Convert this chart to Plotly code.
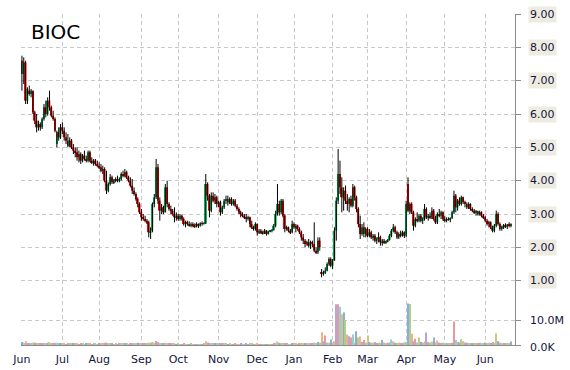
import pandas as pd
import plotly.graph_objects as go

ticker = "BIOC"

open_ = [7.60,7.20,7.55,6.40,6.70,6.60,6.70,6.05,5.80,5.60,
5.70,5.60,5.85,6.20,6.00,6.40,6.20,5.95,5.85,5.10,
5.45,5.30,5.60,5.50,5.30,5.20,5.05,5.20,5.00,4.90,
4.85,4.70,4.80,4.60,4.75,4.65,4.60,4.85,4.60,4.55,
4.60,4.50,4.45,4.40,4.30,4.35,4.00,3.70,3.90,4.10,
3.95,4.00,4.05,4.00,4.05,4.20,4.15,4.25,4.10,4.00,
3.85,3.70,3.60,3.45,3.30,3.05,2.90,2.85,2.80,2.75,
2.45,2.50,3.30,3.50,4.40,3.40,3.10,3.20,3.05,3.80,
3.30,3.15,3.10,3.00,2.90,2.95,2.85,2.95,2.85,2.70,
2.75,2.70,2.65,2.70,2.65,2.62,2.70,2.65,2.72,2.70,
2.72,3.90,3.55,3.10,3.55,3.40,3.50,3.30,3.35,3.05,
3.20,3.40,3.45,3.35,3.45,3.30,3.40,3.25,3.15,3.05,
3.00,2.95,2.90,2.85,2.90,2.70,2.60,2.55,2.70,2.45,
2.50,2.45,2.42,2.50,2.40,2.48,2.50,2.52,2.65,3.00,
3.30,3.05,3.40,2.95,2.55,2.60,2.50,2.45,2.70,2.60,
2.65,2.55,2.45,2.30,2.20,2.10,2.15,2.05,2.15,2.10,
1.90,1.85,2.20,1.25,1.20,1.25,1.30,1.50,1.65,1.45,
1.60,2.50,3.40,4.20,3.80,3.50,3.70,3.40,3.30,3.45,
3.25,3.80,3.50,3.15,2.70,2.40,2.60,2.40,2.55,2.35,
2.45,2.30,2.35,2.20,2.25,2.30,2.15,2.20,2.15,2.18,
2.22,2.35,2.50,2.60,2.45,2.30,2.40,2.35,2.45,2.35,
3.90,3.10,3.30,3.05,2.65,2.85,2.80,2.95,2.80,2.85,
3.15,2.90,2.95,2.90,3.10,2.85,2.75,3.00,2.95,3.05,
2.85,2.80,2.85,2.82,2.88,3.05,3.55,3.20,3.40,3.30,
3.50,3.35,3.30,3.20,3.30,3.15,3.10,3.05,3.08,3.00,
3.05,2.95,2.90,2.80,2.70,2.75,2.60,2.50,2.65,3.00,
2.70,2.55,2.60,2.65,2.62,2.68,2.65]

high = [7.75,7.70,7.60,6.80,6.85,6.75,6.70,6.10,6.00,5.80,
5.75,5.90,6.30,6.40,6.50,6.70,6.25,6.10,5.90,5.50,
5.60,5.70,5.75,5.60,5.45,5.40,5.30,5.25,5.10,5.00,
5.00,4.90,4.85,4.80,4.90,4.75,4.90,4.90,4.70,4.65,
4.65,4.60,4.55,4.50,4.45,4.40,4.30,3.95,4.20,4.15,
4.05,4.10,4.15,4.10,4.25,4.30,4.35,4.30,4.15,4.10,
4.05,3.80,3.65,3.50,3.35,3.15,3.00,2.95,2.85,2.80,
2.60,3.35,3.60,4.65,4.50,3.50,3.30,3.25,3.90,4.00,
3.35,3.25,3.15,3.20,3.05,3.00,3.00,2.98,2.90,2.80,
2.80,2.78,2.75,2.75,2.72,2.75,2.72,2.75,2.78,2.75,
4.20,3.95,3.60,3.65,3.65,3.60,3.55,3.40,3.40,3.25,
3.45,3.55,3.55,3.50,3.50,3.45,3.45,3.30,3.20,3.10,
3.05,3.00,3.00,2.95,2.92,2.80,2.65,2.75,2.72,2.55,
2.55,2.50,2.55,2.52,2.50,2.52,2.55,2.70,3.10,3.90,
3.40,3.45,3.45,3.00,2.65,2.62,2.55,2.80,2.75,2.70,
2.68,2.60,2.50,2.40,2.25,2.20,2.25,2.20,2.20,2.75,
2.00,2.30,2.30,1.35,1.30,1.40,1.55,1.70,1.70,1.65,
2.60,3.50,4.95,4.60,4.10,3.80,3.85,3.60,3.50,3.55,
3.90,3.85,3.55,3.20,2.95,2.70,2.75,2.60,2.60,2.55,
2.50,2.40,2.40,2.30,2.45,2.35,2.25,2.25,2.20,2.25,
2.40,2.55,2.70,2.65,2.50,2.45,2.50,2.50,2.48,3.40,
4.10,3.35,3.35,3.10,2.90,3.05,3.00,3.00,2.90,3.30,
3.20,3.00,3.05,3.20,3.15,2.95,3.05,3.15,3.10,3.08,
2.95,2.90,2.90,2.90,3.10,3.70,3.60,3.45,3.50,3.55,
3.52,3.40,3.35,3.35,3.32,3.20,3.15,3.12,3.10,3.10,
3.08,3.00,2.95,2.85,2.80,2.78,2.65,2.70,3.10,3.05,
2.75,2.65,2.70,2.72,2.70,2.75,2.72]

low = [6.70,6.90,6.30,6.30,6.55,6.50,6.00,5.70,5.45,5.50,
5.50,5.55,5.80,5.90,5.95,6.10,5.90,5.80,5.45,5.00,
5.20,5.25,5.40,5.20,5.10,5.00,5.00,4.95,4.80,4.70,
4.60,4.55,4.50,4.55,4.60,4.55,4.55,4.55,4.50,4.45,
4.45,4.40,4.35,4.25,4.20,3.95,3.60,3.65,3.85,3.90,
3.90,3.95,3.95,3.95,4.00,4.10,4.10,4.05,3.95,3.80,
3.60,3.55,3.40,3.20,3.00,2.80,2.80,2.75,2.70,2.30,
2.25,2.45,3.20,3.45,3.30,2.80,3.00,3.00,3.05,3.20,
3.10,3.00,2.95,2.75,2.80,2.80,2.80,2.80,2.65,2.60,
2.65,2.62,2.60,2.60,2.58,2.60,2.58,2.62,2.65,2.68,
2.70,3.40,2.90,3.05,3.35,3.30,3.20,3.20,2.95,3.00,
3.15,3.30,3.25,3.30,3.25,3.25,3.20,3.10,3.00,2.90,
2.90,2.85,2.75,2.80,2.60,2.55,2.50,2.50,2.35,2.40,
2.40,2.38,2.40,2.35,2.38,2.45,2.45,2.50,2.60,2.95,
2.95,3.00,2.90,2.45,2.50,2.45,2.40,2.42,2.55,2.45,
2.50,2.40,2.20,2.10,2.00,2.05,2.00,1.95,2.00,1.85,
1.80,1.80,1.90,1.10,1.15,1.20,1.28,1.45,1.40,1.35,
1.60,2.20,3.30,3.60,3.05,3.10,3.30,3.10,3.05,3.20,
3.20,3.40,3.05,2.60,2.25,2.35,2.30,2.30,2.30,2.30,
2.25,2.20,2.15,2.10,2.15,2.05,2.05,2.10,2.10,2.15,
2.20,2.30,2.45,2.40,2.25,2.25,2.30,2.32,2.28,2.30,
3.05,3.00,3.00,2.50,2.60,2.75,2.75,2.75,2.70,2.80,
2.85,2.80,2.85,2.85,2.80,2.70,2.70,2.90,2.85,2.80,
2.75,2.75,2.80,2.75,2.85,3.00,3.05,3.10,3.25,3.25,
3.30,3.20,3.15,3.15,3.10,3.05,3.00,2.95,2.95,2.95,
2.90,2.85,2.75,2.65,2.60,2.55,2.45,2.45,2.60,2.65,
2.50,2.50,2.55,2.58,2.55,2.60,2.60]

close = [7.20,7.55,6.40,6.75,6.60,6.70,6.05,5.80,5.60,5.70,
5.60,5.85,6.20,6.00,6.40,6.20,5.95,5.85,5.50,5.45,
5.30,5.60,5.50,5.30,5.20,5.05,5.20,5.00,4.90,4.85,
4.70,4.80,4.60,4.75,4.65,4.60,4.85,4.60,4.55,4.60,
4.50,4.45,4.40,4.30,4.35,4.00,3.70,3.90,4.10,3.95,
4.00,4.05,4.00,4.05,4.20,4.15,4.25,4.10,4.00,3.85,
3.70,3.60,3.45,3.30,3.05,2.90,2.85,2.80,2.75,2.45,
2.50,3.30,3.50,4.40,3.40,3.10,3.20,3.05,3.80,3.30,
3.15,3.10,3.00,2.90,2.95,2.85,2.95,2.85,2.70,2.75,
2.70,2.65,2.70,2.65,2.62,2.70,2.65,2.72,2.70,2.72,
3.90,3.55,3.10,3.55,3.40,3.50,3.30,3.35,3.05,3.20,
3.40,3.45,3.35,3.45,3.30,3.40,3.25,3.15,3.05,3.00,
2.95,2.90,2.85,2.90,2.70,2.60,2.55,2.70,2.45,2.50,
2.45,2.42,2.50,2.40,2.48,2.50,2.52,2.65,3.00,3.30,
3.05,3.40,2.95,2.55,2.60,2.50,2.45,2.70,2.60,2.65,
2.55,2.45,2.30,2.20,2.10,2.15,2.05,2.15,2.10,1.90,
1.85,2.20,2.00,1.20,1.25,1.30,1.50,1.65,1.45,1.60,
2.50,3.40,4.20,3.80,3.50,3.70,3.40,3.30,3.45,3.25,
3.80,3.50,3.15,2.70,2.40,2.60,2.40,2.55,2.35,2.45,
2.30,2.35,2.20,2.25,2.30,2.15,2.20,2.15,2.18,2.22,
2.35,2.50,2.60,2.45,2.30,2.40,2.35,2.45,2.35,3.30,
3.10,3.30,3.05,2.65,2.85,2.80,2.95,2.80,2.85,3.15,
2.90,2.95,2.90,3.10,2.85,2.75,3.00,2.95,3.05,2.85,
2.80,2.85,2.82,2.88,3.05,3.55,3.20,3.40,3.30,3.50,
3.35,3.30,3.20,3.30,3.15,3.10,3.05,3.08,3.00,3.05,
2.95,2.90,2.80,2.70,2.75,2.60,2.50,2.65,3.00,2.70,
2.55,2.60,2.65,2.62,2.68,2.65,2.70]

volume_m = [1.2,0.9,1.5,0.8,0.6,0.7,1.0,0.9,0.8,0.6,
0.5,0.6,0.7,0.8,0.9,1.1,0.7,0.6,0.8,0.9,
0.6,0.5,0.6,0.5,0.4,0.5,0.6,0.5,0.7,0.5,
0.6,0.4,0.5,0.6,0.4,0.5,0.6,0.5,0.4,0.5,
0.5,0.4,0.5,0.7,0.6,0.8,1.0,0.6,0.5,0.6,
0.4,0.5,0.4,0.5,0.6,0.5,0.7,0.5,0.4,0.5,
0.7,0.6,0.8,0.9,0.7,0.8,0.6,0.5,0.6,1.0,
0.8,1.2,0.9,1.6,1.2,0.8,0.6,0.5,0.9,0.8,
0.6,0.5,0.5,0.6,0.4,0.5,0.4,0.4,0.5,0.4,
0.3,0.4,0.5,0.4,0.3,0.4,0.4,0.3,0.4,0.5,
1.5,1.0,0.8,0.7,0.6,0.5,0.5,0.4,0.6,0.5,
0.5,0.6,0.4,0.5,0.4,0.4,0.5,0.4,0.4,0.5,
0.4,0.4,0.5,0.4,0.6,0.5,0.4,0.4,0.5,0.4,
0.3,0.4,0.3,0.4,0.3,0.4,0.3,0.5,0.8,1.4,
0.9,0.7,0.6,0.7,0.5,0.4,0.4,0.6,0.5,0.5,
0.4,0.5,0.6,0.7,0.6,0.5,0.5,0.6,0.5,1.0,
0.8,1.2,0.9,5.1,1.5,3.8,1.0,0.9,2.2,1.0,
1.5,16.3,16.3,15.3,12.3,13.0,10.0,4.2,3.5,3.0,
4.2,1.0,5.5,3.0,3.4,1.2,2.0,1.0,3.8,1.2,
1.0,0.9,1.2,0.8,1.0,0.8,2.0,1.0,0.7,0.9,
1.0,2.2,1.5,0.9,0.8,1.0,0.8,0.7,1.0,1.2,
16.6,16.4,4.5,1.5,2.5,1.0,3.0,1.2,1.0,1.4,
5.0,1.2,1.0,1.3,3.0,1.0,1.8,1.0,0.8,1.0,
0.7,0.8,0.6,0.7,0.9,9.4,2.0,1.2,1.0,2.3,
1.5,1.0,0.9,0.8,0.7,0.8,0.6,0.7,0.6,0.9,
0.8,0.7,1.0,0.8,0.9,0.7,1.2,0.8,4.6,1.5,
1.0,0.8,0.7,0.6,0.8,0.7,1.4]

month_labels = ["Jun", "Jul", "Aug", "Sep", "Oct", "Nov", "Dec",
                "Jan", "Feb", "Mar", "Apr", "May", "Jun"]
price_ticks = [1, 2, 3, 4, 5, 6, 7, 8, 9]
price_tick_text = ["1.00", "2.00", "3.00", "4.00", "5.00", "6.00", "7.00", "8.00", "9.00"]
vol_ticks = [0, 10e6]
vol_tick_text = ["0.0K", "10.0M"]

holidays = ["2017-07-04", "2017-09-04", "2017-11-23", "2017-12-25", "2018-01-01",
            "2018-01-15", "2018-02-19", "2018-03-30", "2018-05-28"]

n = len(close)
dates = pd.bdate_range(start="2017-06-01", periods=n, freq="C", holidays=holidays)
xcat = [d.strftime("%Y-%m-%d") for d in dates]

# first trading day of each month
tickvals = []
prev = None
for d, s in zip(dates, xcat):
    key = (d.year, d.month)
    if key != prev:
        tickvals.append(s)
        prev = key

UP = "#00b050"
DOWN = "#ff0000"
body_base = [min(o, c) for o, c in zip(open_, close)]
body_h = [max(abs(c - o), 0.015) for o, c in zip(open_, close)]
body_col = [UP if c >= o else DOWN for o, c in zip(open_, close)]

wx, wy = [], []
for s, h, l in zip(xcat, high, low):
    wx += [s, s, None]
    wy += [l, h, None]

palette = ["#8faadc", "#a9d18e", "#f4b183", "#b4a7d6", "#e99a9a", "#8fd0dc", "#d9c27a"]
vol_col = [palette[i % len(palette)] for i in range(n)]
volume = [v * 1e6 for v in volume_m]

fig = go.Figure()
fig.add_trace(go.Bar(x=xcat, y=volume, marker=dict(color=vol_col, line=dict(width=0)),
                     width=0.6, yaxis="y2", hoverinfo="skip"))
fig.add_trace(go.Bar(x=xcat, y=body_h, base=body_base,
                     marker=dict(color=body_col, line=dict(width=0)),
                     width=0.9, yaxis="y", hoverinfo="skip"))
fig.add_trace(go.Scatter(x=wx, y=wy, mode="lines", line=dict(color="#000000", width=1),
                         yaxis="y", hoverinfo="skip", connectgaps=False))

TXT = "#14143c"
FONT = "DejaVu Sans"
annotations = [dict(text=ticker, x=0.016, y=0.946, xref="paper", yref="paper",
                    xanchor="left", yanchor="middle", showarrow=False,
                    font=dict(family=FONT, size=20, color="#000000"))]
for v, t in zip(price_ticks, price_tick_text):
    annotations.append(dict(text=t, x=1.0263, y=v, xref="paper", yref="y",
                            xanchor="left", yanchor="middle", showarrow=False,
                            bgcolor="#eeece1", borderpad=1,
                            font=dict(family=FONT, size=11, color=TXT)))
for v, t in zip(vol_ticks, vol_tick_text):
    annotations.append(dict(text=t, x=1.0263, y=v, xref="paper", yref="y2",
                            xanchor="left", yanchor="middle", showarrow=False,
                            yshift=-2 if v == 0 else 0,
                            font=dict(family=FONT, size=11, color=TXT)))

GRID = "#c8c8c8"
fig.update_layout(
    width=570, height=370,
    margin=dict(l=21, r=55, t=14, b=25, autoexpand=False),
    paper_bgcolor="white", plot_bgcolor="white",
    showlegend=False, barmode="overlay",
    annotations=annotations,
    xaxis=dict(type="category", range=[-0.5, 268.2], automargin=False,
               tickvals=tickvals, ticktext=month_labels,
               showgrid=True, gridcolor=GRID, griddash="4px,3px", gridwidth=1,
               showline=True, linecolor="#8c8c8c", linewidth=1,
               ticks="outside", ticklen=4, tickcolor="rgba(0,0,0,0)",
               tickfont=dict(family=FONT, size=11, color=TXT),
               zeroline=False, fixedrange=True),
    yaxis=dict(side="right", range=[-0.93, 9], tickvals=price_ticks, automargin=False,
               showticklabels=False, ticks="outside", ticklen=5, tickcolor="#8c8c8c",
               showgrid=True, gridcolor=GRID, griddash="4px,3px", gridwidth=1,
               showline=True, linecolor="#8c8c8c", linewidth=1,
               zeroline=False, fixedrange=True),
    yaxis2=dict(side="right", overlaying="y", range=[0, 132.4e6], tickvals=vol_ticks,
                automargin=False,
                showticklabels=False, ticks="outside", ticklen=5, tickcolor="#8c8c8c",
                showgrid=True, gridcolor=GRID, griddash="4px,3px", gridwidth=1,
                showline=False, zeroline=False, fixedrange=True),
)

fig.write_html("out.html")
